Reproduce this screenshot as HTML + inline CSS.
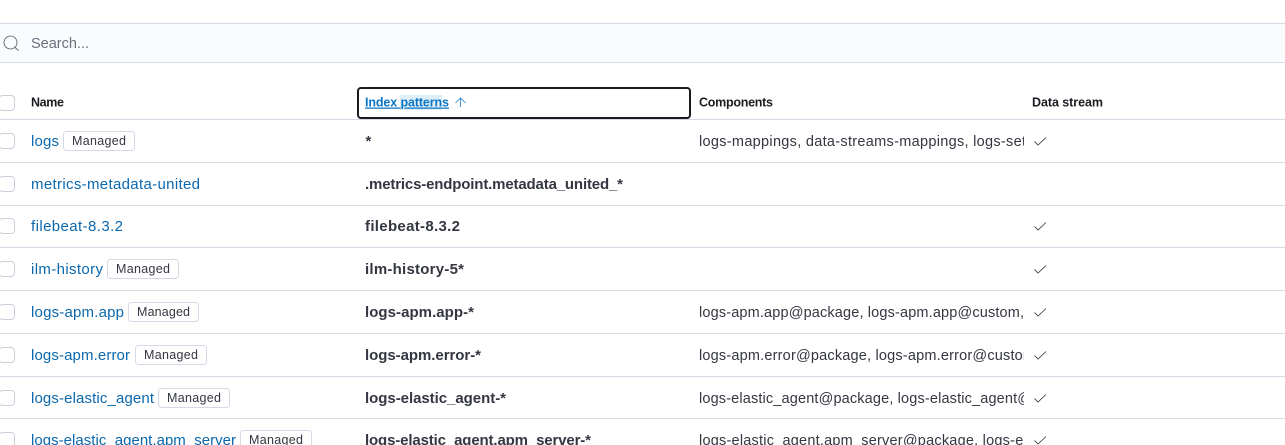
<!DOCTYPE html>
<html lang="en"><head><meta charset="utf-8"><title>Index templates</title>
<style>
html,body{margin:0;padding:0;background:#fff;width:1285px;height:445px;overflow:hidden}
svg{display:block;font-family:"Liberation Sans",sans-serif}
.n{font-size:15px;fill:#0b68ad}
.b{font-size:15px;font-weight:bold;fill:#343741}
.c{font-size:14.5px;fill:#343741}
.h{font-size:12.5px;font-weight:bold;fill:#1a1c21}
.m{font-size:12.5px;fill:#343741}
.l{stroke:#d3dae6;stroke-width:1;fill:none}
.bx{fill:#fff;stroke:#d3dae6;stroke-width:1}
.cb{fill:#fff;stroke:#c9d0da;stroke-width:1}
.ck{fill:none;stroke:#343741;stroke-width:.85}
</style></head><body>
<svg width="1285" height="445" viewBox="0 0 1285 445" xmlns="http://www.w3.org/2000/svg">
<defs><clipPath id="cc"><rect x="690" y="120" width="334" height="325"/></clipPath></defs>
<rect x="0" y="24" width="1285" height="38.500" fill="#fafbfd"/>
<path class="l" d="M0 23.500H1285M0 62.500H1285"/>
<circle cx="10.500" cy="42.500" r="6.500" fill="none" stroke="#5a606d" stroke-width=".85"/>
<path d="M15 47.500l3.500 3" stroke="#5a606d" stroke-width=".85" fill="none"/>
<text x="31" y="48" font-size="14.500" fill="#69707d" textLength="58" lengthAdjust="spacing">Search...</text>

<rect x="-1" y="95.500" width="15.500" height="15" rx="3.500" class="cb"/>
<text class="h" x="31" y="106.500" textLength="33" lengthAdjust="spacing">Name</text>
<rect x="358" y="88" width="332" height="30" rx="3" fill="#fff" stroke="#1a1c21" stroke-width="2"/>
<rect x="400" y="95" width="42" height="15" fill="#e0eef8"/>
<text x="365" y="106.500" font-size="12.500" font-weight="bold" fill="#0b75c6" text-decoration="underline" textLength="84" lengthAdjust="spacing">Index patterns</text>
<path d="M460.500 107v-9M455.500 103l5-5 5 5" fill="none" stroke="#2b86cc" stroke-width=".85"/>
<text class="h" x="699" y="106.500" textLength="74" lengthAdjust="spacing">Components</text>
<text class="h" x="1032" y="106.500" textLength="71" lengthAdjust="spacing">Data stream</text>

<path class="l" d="M0 119.500H1285M0 162.500H1285M0 205.500H1285M0 247.500H1285M0 290.500H1285M0 333.500H1285M0 376.500H1285M0 418.500H1285"/>

<rect x="-1" y="133.500" width="15.500" height="15" rx="3.500" class="cb"/>
<rect x="-1" y="176.500" width="15.500" height="15" rx="3.500" class="cb"/>
<rect x="-1" y="218.500" width="15.500" height="15" rx="3.500" class="cb"/>
<rect x="-1" y="261.500" width="15.500" height="15" rx="3.500" class="cb"/>
<rect x="-1" y="304.500" width="15.500" height="15" rx="3.500" class="cb"/>
<rect x="-1" y="347.500" width="15.500" height="15" rx="3.500" class="cb"/>
<rect x="-1" y="390.500" width="15.500" height="15" rx="3.500" class="cb"/>
<rect x="-1" y="432.500" width="15.500" height="15" rx="3.500" class="cb"/>

<text class="n" x="31" y="146" textLength="28" lengthAdjust="spacing">logs</text>
<text class="n" x="31" y="189" textLength="169" lengthAdjust="spacing">metrics-metadata-united</text>
<text class="n" x="31" y="231" textLength="92" lengthAdjust="spacing">filebeat-8.3.2</text>
<text class="n" x="31" y="274" textLength="72" lengthAdjust="spacing">ilm-history</text>
<text class="n" x="31" y="317" textLength="93" lengthAdjust="spacing">logs-apm.app</text>
<text class="n" x="31" y="360" textLength="99" lengthAdjust="spacing">logs-apm.error</text>
<text class="n" x="31" y="403" textLength="123" lengthAdjust="spacing">logs-elastic_agent</text>
<text class="n" x="31" y="445" textLength="205" lengthAdjust="spacing">logs-elastic_agent.apm_server</text>

<rect class="bx" x="63.500" y="131.500" width="71" height="19" rx="3"/><text class="m" x="72" y="145" textLength="54" lengthAdjust="spacing">Managed</text>
<rect class="bx" x="107.500" y="259.500" width="71" height="19" rx="3"/><text class="m" x="116" y="273" textLength="54" lengthAdjust="spacing">Managed</text>
<rect class="bx" x="128.500" y="302.500" width="70" height="19" rx="3"/><text class="m" x="137" y="316" textLength="53" lengthAdjust="spacing">Managed</text>
<rect class="bx" x="135.500" y="345.500" width="71" height="19" rx="3"/><text class="m" x="144" y="359" textLength="54" lengthAdjust="spacing">Managed</text>
<rect class="bx" x="158.500" y="388.500" width="71" height="19" rx="3"/><text class="m" x="167" y="402" textLength="54" lengthAdjust="spacing">Managed</text>
<rect class="bx" x="240.500" y="430.500" width="71" height="19" rx="3"/><text class="m" x="249" y="444" textLength="54" lengthAdjust="spacing">Managed</text>

<text class="b" x="365.500" y="146">*</text>
<text class="b" x="365" y="189" textLength="258" lengthAdjust="spacing">.metrics-endpoint.metadata_united_*</text>
<text class="b" x="365" y="231" textLength="95" lengthAdjust="spacing">filebeat-8.3.2</text>
<text class="b" x="365" y="274" textLength="99" lengthAdjust="spacing">ilm-history-5*</text>
<text class="b" x="365" y="317" textLength="109" lengthAdjust="spacing">logs-apm.app-*</text>
<text class="b" x="365" y="360" textLength="116" lengthAdjust="spacing">logs-apm.error-*</text>
<text class="b" x="365" y="403" textLength="141" lengthAdjust="spacing">logs-elastic_agent-*</text>
<text class="b" x="365" y="445" textLength="226" lengthAdjust="spacing">logs-elastic_agent.apm_server-*</text>

<g clip-path="url(#cc)">
<text class="c" x="699" y="146" textLength="327" lengthAdjust="spacing">logs-mappings, data-streams-mappings, logs-set</text>
<text class="c" x="699" y="317" textLength="325" lengthAdjust="spacing">logs-apm.app@package, logs-apm.app@custom,</text>
<text class="c" x="699" y="360" textLength="336" lengthAdjust="spacing">logs-apm.error@package, logs-apm.error@custom</text>
<text class="c" x="699" y="403" textLength="333" lengthAdjust="spacing">logs-elastic_agent@package, logs-elastic_agent@</text>
<text class="c" x="699" y="445" textLength="336" lengthAdjust="spacing">logs-elastic_agent.apm_server@package, logs-ela</text>
</g>

<path class="ck" d="M1034.500 141.500l3.500 3.500 8-7.500"/>
<path class="ck" d="M1034.500 226.500l3.500 3.500 8-7.500"/>
<path class="ck" d="M1034.500 269.500l3.500 3.500 8-7.500"/>
<path class="ck" d="M1034.500 312.500l3.500 3.500 8-7.500"/>
<path class="ck" d="M1034.500 355.500l3.500 3.500 8-7.500"/>
<path class="ck" d="M1034.500 398.500l3.500 3.500 8-7.500"/>
<path class="ck" d="M1034.500 440.500l3.500 3.500 8-7.500"/>
</svg>
</body></html>
